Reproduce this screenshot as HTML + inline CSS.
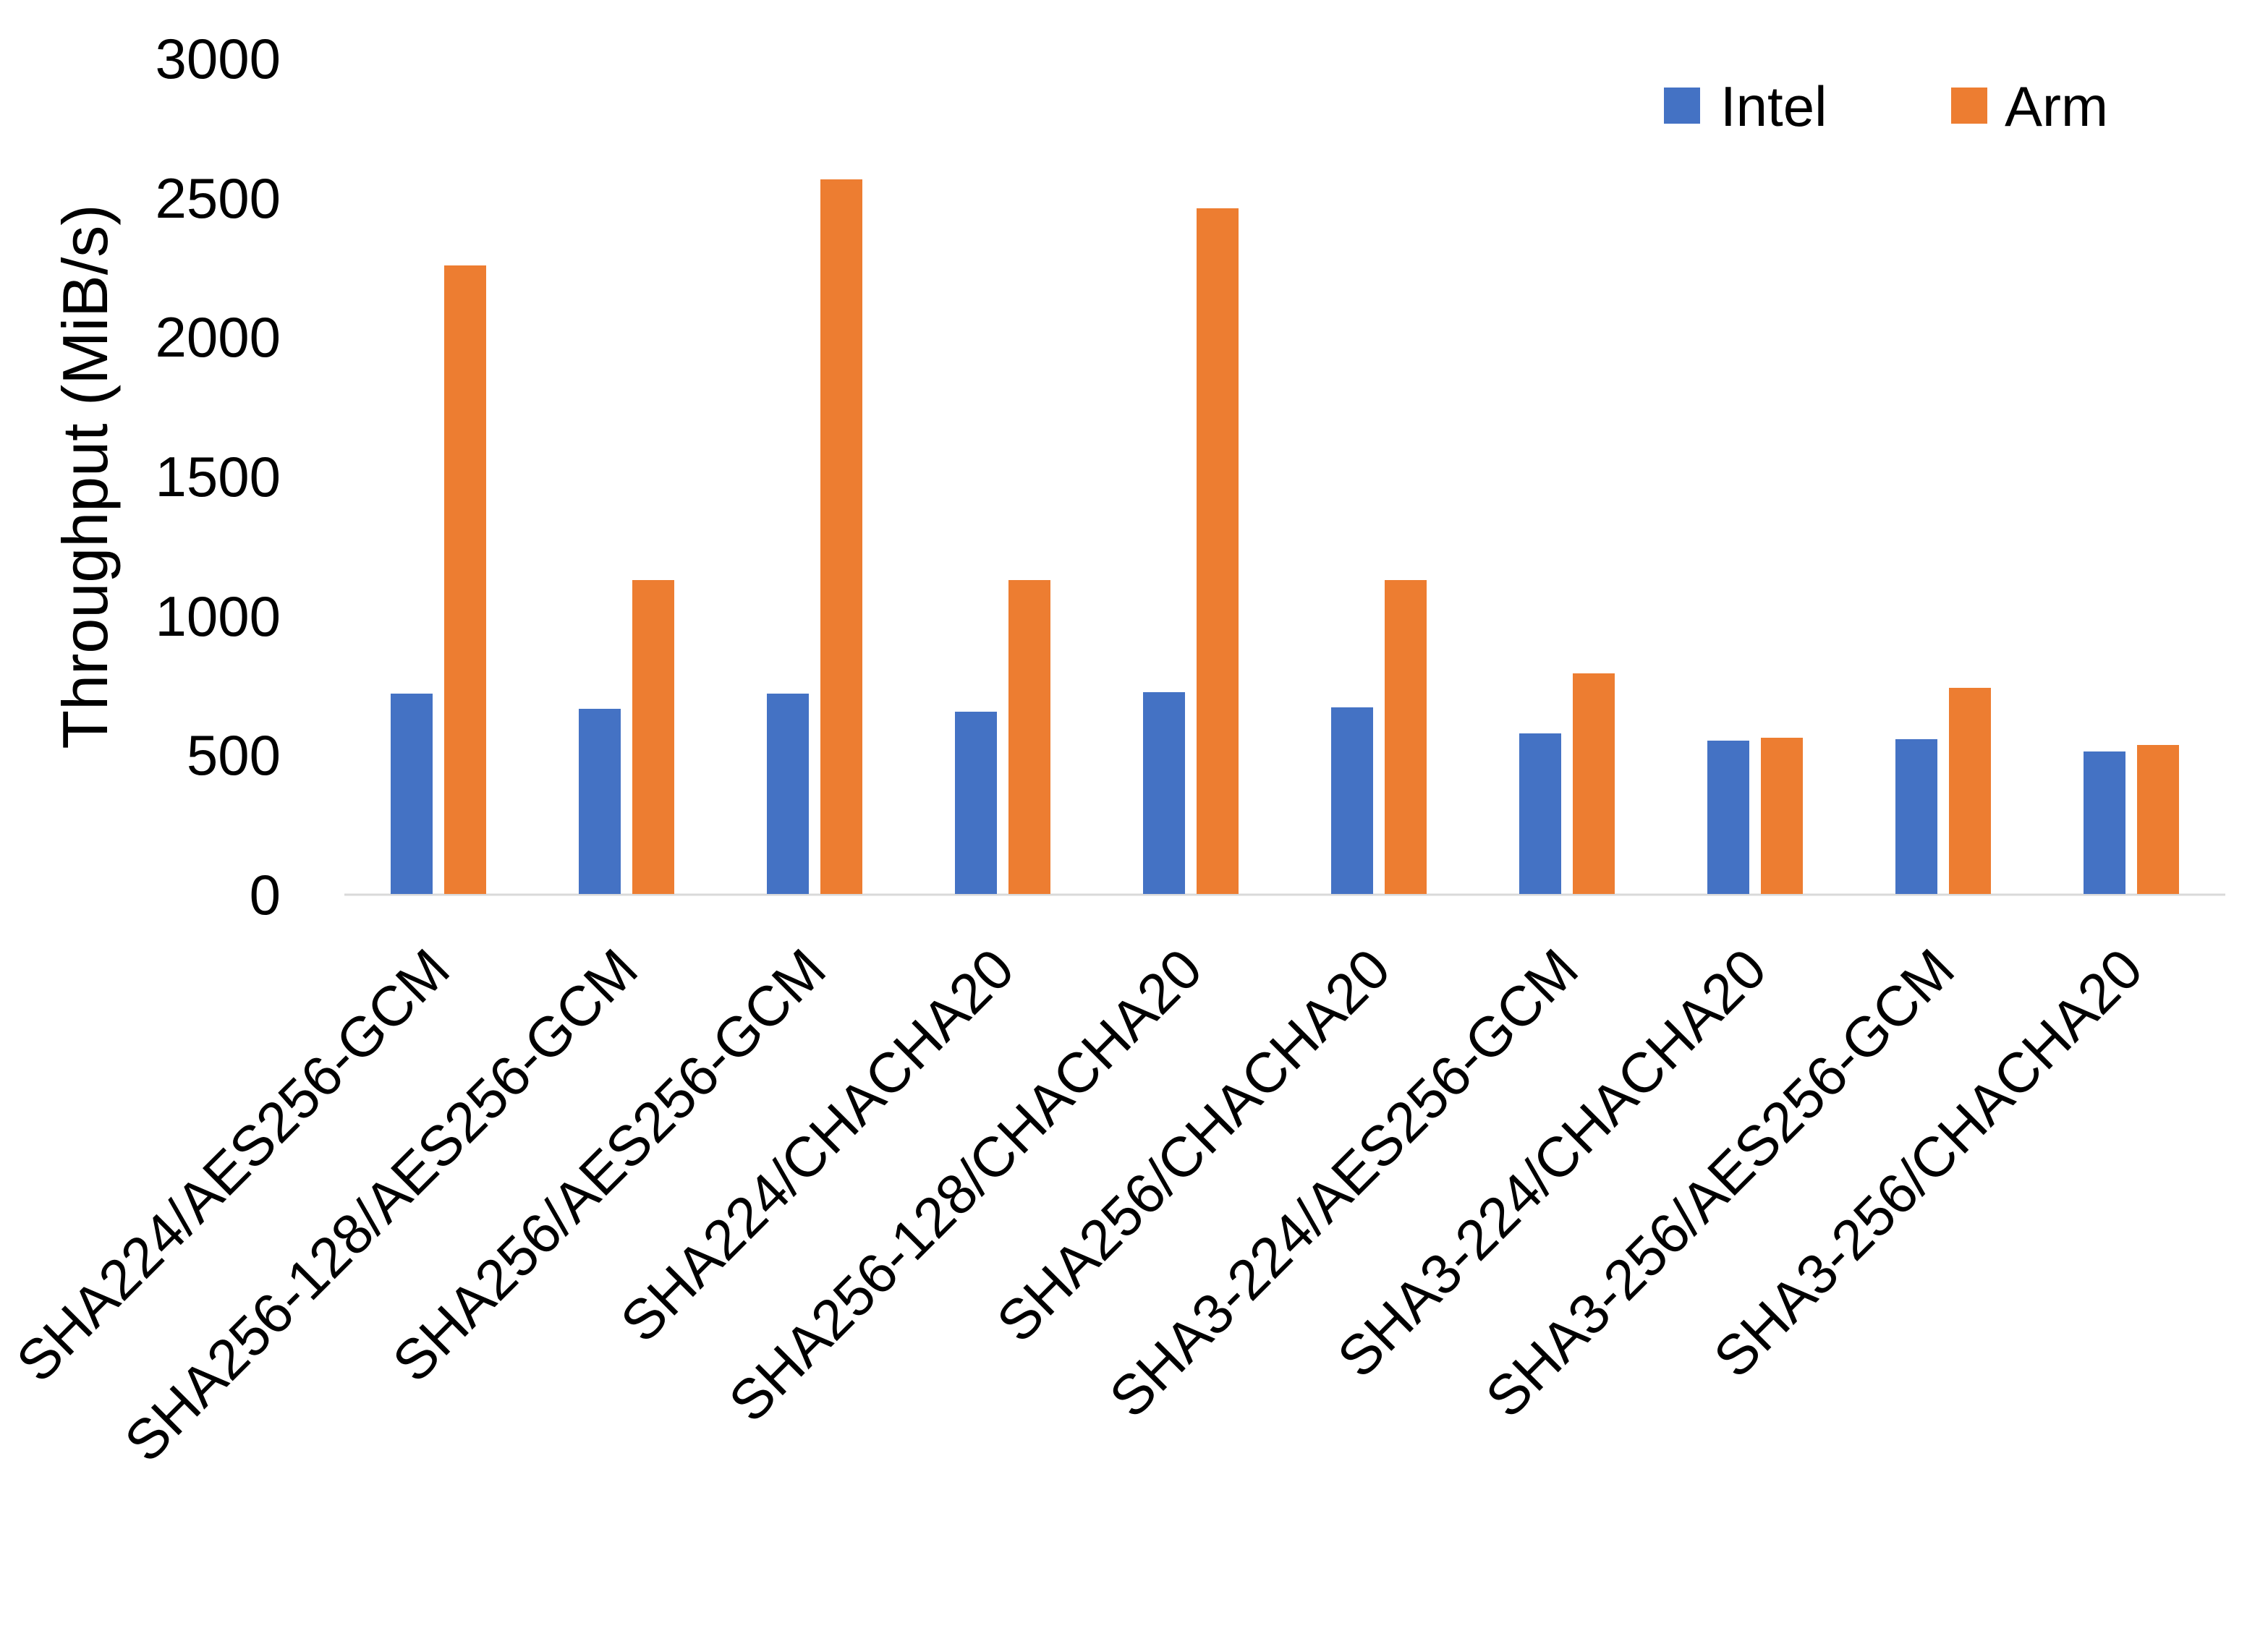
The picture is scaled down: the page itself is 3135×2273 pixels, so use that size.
<!DOCTYPE html>
<html><head><style>
html,body{margin:0;padding:0;background:#fff;}
svg{display:block;}
text{font-family:"Liberation Sans",sans-serif;fill:#000;}
</style></head><body>
<svg width="3135" height="2273" viewBox="0 0 3135 2273" xmlns="http://www.w3.org/2000/svg">
<rect width="3135" height="2273" fill="#fff"/>
<g font-size="78" text-anchor="end">
<text x="388" y="1264">0</text>
<text x="388" y="1071">500</text>
<text x="388" y="879">1000</text>
<text x="388" y="686">1500</text>
<text x="388" y="493">2000</text>
<text x="388" y="301">2500</text>
<text x="388" y="108">3000</text>
</g>
<text transform="translate(148,659) rotate(-90)" font-size="88" text-anchor="middle">Throughput (MiB/s)</text>
<line x1="476" y1="1237" x2="3076" y2="1237" stroke="#d9d9d9" stroke-width="3"/>
<rect x="2300" y="121" width="50" height="50" fill="#4472c4"/>
<text x="2378" y="174" font-size="78">Intel</text>
<rect x="2697" y="121" width="50" height="50" fill="#ed7d31"/>
<text x="2771" y="174" font-size="78">Arm</text>
<g font-size="78" text-anchor="end">
<text transform="translate(626,1345) rotate(-45)">SHA224/AES256-GCM</text>
<text transform="translate(886,1345) rotate(-45)">SHA256-128/AES256-GCM</text>
<text transform="translate(1146,1345) rotate(-45)">SHA256/AES256-GCM</text>
<text transform="translate(1406,1345) rotate(-45)">SHA224/CHACHA20</text>
<text transform="translate(1666,1345) rotate(-45)">SHA256-128/CHACHA20</text>
<text transform="translate(1926,1345) rotate(-45)">SHA256/CHACHA20</text>
<text transform="translate(2186,1345) rotate(-45)">SHA3-224/AES256-GCM</text>
<text transform="translate(2446,1345) rotate(-45)">SHA3-224/CHACHA20</text>
<text transform="translate(2706,1345) rotate(-45)">SHA3-256/AES256-GCM</text>
<text transform="translate(2966,1345) rotate(-45)">SHA3-256/CHACHA20</text>
</g>
<g fill="#4472c4">
<rect x="540" y="959" width="58" height="277"/>
<rect x="800" y="980" width="58" height="256"/>
<rect x="1060" y="959" width="58" height="277"/>
<rect x="1320" y="984" width="58" height="252"/>
<rect x="1580" y="957" width="58" height="279"/>
<rect x="1840" y="978" width="58" height="258"/>
<rect x="2100" y="1014" width="58" height="222"/>
<rect x="2360" y="1024" width="58" height="212"/>
<rect x="2620" y="1022" width="58" height="214"/>
<rect x="2880" y="1039" width="58" height="197"/>
</g>
<g fill="#ed7d31">
<rect x="614" y="367" width="58" height="869"/>
<rect x="874" y="802" width="58" height="434"/>
<rect x="1134" y="248" width="58" height="988"/>
<rect x="1394" y="802" width="58" height="434"/>
<rect x="1654" y="288" width="58" height="948"/>
<rect x="1914" y="802" width="58" height="434"/>
<rect x="2174" y="931" width="58" height="305"/>
<rect x="2434" y="1020" width="58" height="216"/>
<rect x="2694" y="951" width="58" height="285"/>
<rect x="2954" y="1030" width="58" height="206"/>
</g>
</svg>
</body></html>
